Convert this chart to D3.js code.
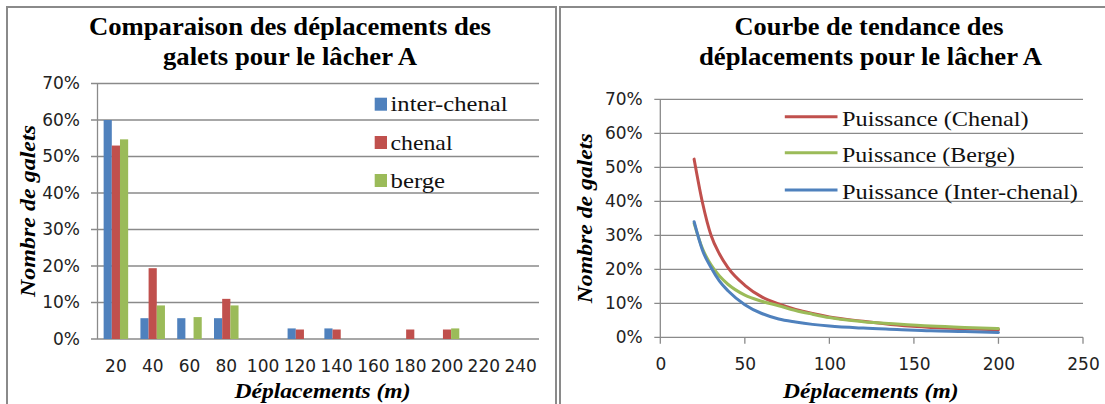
<!DOCTYPE html>
<html>
<head>
<meta charset="utf-8">
<script src="https://cdn.jsdelivr.net/npm/d3@7"></script>
<style>
  html, body { margin: 0; padding: 0; background: #fff; }
  svg { display: block; }
</style>
</head>
<body>
<svg id="chart" width="1105" height="404"></svg>
<script>
// ---------- DATA ----------
const categories = [20, 40, 60, 80, 100, 120, 140, 160, 180, 200, 220, 240];
const seriesNames = ["inter-chenal", "chenal", "berge"];
const interChenal = [60, 5.7, 5.7, 5.7, 0, 2.9, 2.9, 0, 0, 0, 0, 0];
const chenal      = [53, 19.4, 0, 11, 0, 2.6, 2.6, 0, 2.6, 2.6, 0, 0];
const berge       = [54.7, 9.2, 6.0, 9.2, 0, 0, 0, 0, 0, 2.9, 0, 0];
const yTickValues = [0, 10, 20, 30, 40, 50, 60, 70];

const trendX       = [20, 25, 30, 35, 40, 50, 60, 70, 80, 90, 100, 120, 140, 160, 180, 200];
const trendChenal  = [52.4, 39.5, 30.0, 24.5, 20.5, 15.3, 11.9, 9.8, 8.2, 7.0, 6.0, 4.7, 3.6, 2.9, 2.5, 2.2];
const trendBerge   = [33.5, 26.0, 21.3, 18.0, 15.6, 12.4, 10.6, 9.3, 7.9, 6.8, 5.8, 4.6, 3.9, 3.3, 2.9, 2.6];
const trendInter   = [34.0, 25.5, 20.5, 16.5, 13.7, 9.6, 7.0, 5.4, 4.5, 3.8, 3.3, 2.7, 2.3, 1.9, 1.7, 1.4];
const trendNames   = ["Puissance (Chenal)", "Puissance (Berge)", "Puissance (Inter-chenal)"];
const xTickValues2 = [0, 50, 100, 150, 200, 250];

const colors = { blue: "#4F81BD", red: "#C0504D", green: "#9BBB59" };
const gridColor = "#8a8a8a";
const serif = "'Liberation Serif', 'Times New Roman', serif";
const sans = "'DejaVu Sans', Verdana, sans-serif";

const svg = d3.select("#chart");

// panel borders
svg.append("rect").attr("x", 7).attr("y", 7).attr("width", 549).attr("height", 420)
  .attr("fill", "none").attr("stroke", "#8a8a8a").attr("stroke-width", 2);
svg.append("rect").attr("x", 560).attr("y", 7).attr("width", 600).attr("height", 420)
  .attr("fill", "none").attr("stroke", "#8a8a8a").attr("stroke-width", 2);

function fitText(sel, len) {
  return sel.attr("textLength", len).attr("lengthAdjust", "spacingAndGlyphs");
}

// ================= LEFT CHART =================
(function () {
  const L = { left: 97.5, right: 539, top: 83.5, bottom: 339 };
  const g = svg.append("g");
  const x = d3.scaleBand().domain(categories).range([L.left, L.right]).paddingInner(0).paddingOuter(0);
  const x1 = d3.scaleBand().domain(seriesNames).range([0, x.bandwidth()]).paddingInner(0).paddingOuter(0.75);
  const y = d3.scaleLinear().domain([0, 70]).range([L.bottom, L.top]);

  // gridlines + y ticks
  g.append("g").selectAll("line").data(yTickValues).join("line")
    .attr("x1", L.left - 6.5).attr("x2", L.right)
    .attr("y1", d => y(d)).attr("y2", d => y(d))
    .attr("stroke", gridColor).attr("stroke-width", 1.3);
  g.append("line").attr("x1", L.left).attr("x2", L.left).attr("y1", L.top).attr("y2", L.bottom)
    .attr("stroke", gridColor).attr("stroke-width", 1.3);

  // y axis labels
  const yAxis = d3.axisLeft(y).tickValues(yTickValues).tickSize(0).tickPadding(0).tickFormat(d => d + "%");
  const ya = g.append("g").attr("transform", `translate(${L.left - 17.5},0)`).call(yAxis);
  ya.select(".domain").remove();
  ya.selectAll("text").attr("font-family", sans).attr("font-size", 17).attr("fill", "#222");

  // bars
  const rows = categories.map((c, i) => ({ c, vals: [interChenal[i], chenal[i], berge[i]] }));
  const barColors = [colors.blue, colors.red, colors.green];
  g.append("g").selectAll("g").data(rows).join("g")
    .attr("transform", d => `translate(${x(d.c)},0)`)
    .selectAll("rect").data(d => d.vals.map((v, k) => ({ k, v }))).join("rect")
    .attr("x", d => x1(seriesNames[d.k])).attr("width", x1.bandwidth())
    .attr("y", d => y(d.v)).attr("height", d => y(0) - y(d.v))
    .attr("fill", d => barColors[d.k]);

  // x axis labels
  const xAxis = d3.axisBottom(x).tickSize(0).tickPadding(0);
  const xa = g.append("g").attr("transform", `translate(0,${L.bottom})`).call(xAxis);
  xa.select(".domain").remove();
  xa.selectAll("text").attr("font-family", sans).attr("font-size", 17).attr("fill", "#222")
    .attr("y", 32.7).attr("dy", 0);

  // title
  fitText(g.append("text").attr("x", 290).attr("y", 35).attr("text-anchor", "middle")
    .attr("font-family", serif).attr("font-weight", "bold").attr("font-size", 25)
    .text("Comparaison des déplacements des"), 402);
  fitText(g.append("text").attr("x", 290).attr("y", 65).attr("text-anchor", "middle")
    .attr("font-family", serif).attr("font-weight", "bold").attr("font-size", 25)
    .text("galets pour le lâcher A"), 254);

  // axis titles
  fitText(g.append("text").attr("x", 322.5).attr("y", 398).attr("text-anchor", "middle")
    .attr("font-family", serif).attr("font-weight", "bold").attr("font-style", "italic").attr("font-size", 22)
    .text("Déplacements (m)"), 176);
  fitText(g.append("text").attr("transform", "translate(35,211) rotate(-90)").attr("text-anchor", "middle")
    .attr("font-family", serif).attr("font-weight", "bold").attr("font-style", "italic").attr("font-size", 22)
    .text("Nombre de galets"), 172);

  // legend
  const legY = [97.7, 136, 174];
  const legW = [117, 62, 54.6];
  const leg = g.append("g").selectAll("g").data(seriesNames).join("g");
  leg.append("rect").attr("x", 374.7).attr("y", (d, i) => legY[i]).attr("width", 12.3).attr("height", 13)
    .attr("fill", (d, i) => barColors[i]);
  leg.append("text").attr("x", 390.5).attr("y", (d, i) => legY[i] + 13.5)
    .attr("font-family", serif).attr("font-size", 22).attr("fill", "#111")
    .attr("textLength", (d, i) => legW[i]).attr("lengthAdjust", "spacingAndGlyphs")
    .text(d => d);
})();

// ================= RIGHT CHART =================
(function () {
  const R = { left: 660.3, right: 1083, top: 99.3, bottom: 337.3 };
  const g = svg.append("g");
  const x = d3.scaleLinear().domain([0, 250]).range([R.left, R.right]);
  const y = d3.scaleLinear().domain([0, 70]).range([R.bottom, R.top]);

  g.append("g").selectAll("line").data(yTickValues).join("line")
    .attr("x1", R.left - 6).attr("x2", R.right)
    .attr("y1", d => y(d)).attr("y2", d => y(d))
    .attr("stroke", gridColor).attr("stroke-width", 1.3);
  g.append("line").attr("x1", R.left).attr("x2", R.left).attr("y1", R.top).attr("y2", R.bottom)
    .attr("stroke", gridColor).attr("stroke-width", 1.3);
  g.append("g").selectAll("line").data(xTickValues2).join("line")
    .attr("x1", d => x(d)).attr("x2", d => x(d))
    .attr("y1", R.bottom).attr("y2", R.bottom + 6.5)
    .attr("stroke", gridColor).attr("stroke-width", 1.3);

  const yAxis = d3.axisLeft(y).tickValues(yTickValues).tickSize(0).tickPadding(0).tickFormat(d => d + "%");
  const ya = g.append("g").attr("transform", `translate(${R.left - 17.6},0)`).call(yAxis);
  ya.select(".domain").remove();
  ya.selectAll("text").attr("font-family", sans).attr("font-size", 17).attr("fill", "#222");

  const xAxis = d3.axisBottom(x).tickValues(xTickValues2).tickSize(0).tickPadding(0);
  const xa = g.append("g").attr("transform", `translate(0,${R.bottom})`).call(xAxis);
  xa.select(".domain").remove();
  xa.selectAll("text").attr("font-family", sans).attr("font-size", 17).attr("fill", "#222")
    .attr("y", 32.7).attr("dy", 0);

  // trend lines
  const line = d3.line().x(d => x(d[0])).y(d => y(d[1])).curve(d3.curveMonotoneX);
  const lines = [
    { vals: trendChenal, color: colors.red },
    { vals: trendBerge, color: colors.green },
    { vals: trendInter, color: colors.blue }
  ];
  g.append("g").selectAll("path").data(lines).join("path")
    .attr("d", d => line(trendX.map((xv, i) => [xv, d.vals[i]])))
    .attr("fill", "none").attr("stroke", d => d.color).attr("stroke-width", 3)
    .attr("stroke-linecap", "round");

  // title
  fitText(g.append("text").attr("x", 869).attr("y", 35).attr("text-anchor", "middle")
    .attr("font-family", serif).attr("font-weight", "bold").attr("font-size", 25)
    .text("Courbe de tendance des"), 269);
  fitText(g.append("text").attr("x", 870.5).attr("y", 65).attr("text-anchor", "middle")
    .attr("font-family", serif).attr("font-weight", "bold").attr("font-size", 25)
    .text("déplacements pour le lâcher A"), 343);

  fitText(g.append("text").attr("x", 870.8).attr("y", 398).attr("text-anchor", "middle")
    .attr("font-family", serif).attr("font-weight", "bold").attr("font-style", "italic").attr("font-size", 22)
    .text("Déplacements (m)"), 175.5);
  fitText(g.append("text").attr("transform", "translate(592,218.3) rotate(-90)").attr("text-anchor", "middle")
    .attr("font-family", serif).attr("font-weight", "bold").attr("font-style", "italic").attr("font-size", 22)
    .text("Nombre de galets"), 170);

  // legend
  const legY = [116.7, 152.7, 190];
  const legW = [186.7, 173, 236];
  const legC = [colors.red, colors.green, colors.blue];
  const leg = g.append("g").selectAll("g").data(trendNames).join("g");
  leg.append("line").attr("x1", 784.8).attr("x2", 837.5)
    .attr("y1", (d, i) => legY[i]).attr("y2", (d, i) => legY[i])
    .attr("stroke", (d, i) => legC[i]).attr("stroke-width", 3);
  leg.append("text").attr("x", 842).attr("y", (d, i) => legY[i] + 9)
    .attr("font-family", serif).attr("font-size", 22).attr("fill", "#111")
    .attr("textLength", (d, i) => legW[i]).attr("lengthAdjust", "spacingAndGlyphs")
    .text(d => d);
})();
</script>
</body>
</html>
